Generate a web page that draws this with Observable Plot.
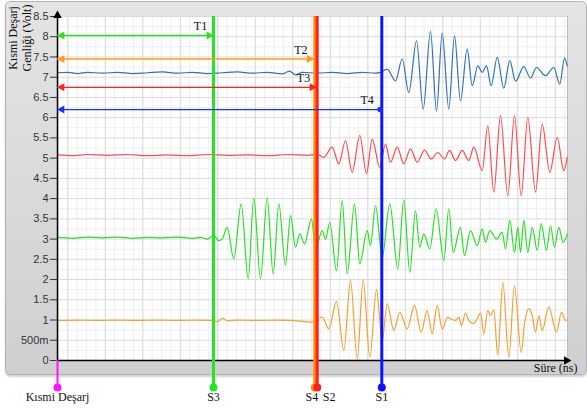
<!DOCTYPE html>
<html><head><meta charset="utf-8">
<script src="https://cdn.jsdelivr.net/npm/d3@7"></script>
<script src="https://cdn.jsdelivr.net/npm/@observablehq/plot@0.6"></script>
<style>
body{margin:0;background:#fff;overflow:hidden}
#wrap{position:relative;width:587px;height:412px;overflow:hidden}
#panel{position:absolute;left:5px;top:1px;width:582px;height:374px;box-sizing:border-box;border:1px solid #b3b3b3;border-radius:5px;background:linear-gradient(#e4e4e4,#cfcfcf);box-shadow:0 2px 2px rgba(0,0,0,.18)}
#chart{position:absolute;left:0;top:0}
#ytitle{position:absolute;font:12px "Liberation Serif";line-height:14px;text-align:center;width:100px;height:28px;left:-30px;top:24px;transform:rotate(-90deg);color:#111;white-space:nowrap}
</style></head>
<body>
<div id="wrap">
  <div id="panel"></div>
  <div id="chart"></div>
  <div id="ytitle">Kısmi Deşarj<br>Genliği (Volt)</div>
</div>
<script>
// time axis (ns, no labelled ticks) and amplitude axis (V)
const xDomain = [0, 510];
const yDomain = [0, 8.5];
const yTicks = [0, 0.5, 1, 1.5, 2, 2.5, 3, 3.5, 4, 4.5, 5, 5.5, 6, 6.5, 7, 7.5, 8, 8.5];
const yTickLabels = ["0", "500m", "1", "1.5", "2", "2.5", "3", "3.5", "4", "4.5", "5", "5.5", "6", "6.5", "7", "7.5", "8", "8.5"];

// waveforms [time, volt]
const blueSeries = [[0,7.11],[10,7.12],[20,7.09],[30,7.12],[45,7.10],[60,7.12],[75,7.09],[90,7.11],[105,7.13],[120,7.10],[135,7.12],[150,7.09],[165,7.11],[180,7.13],[195,7.10],[210,7.12],[225,7.08],[232,7.15],[238,7.06],[245,7.12],[260,7.10],[275,7.12],[290,7.09],[305,7.12],[318,7.10],
[323,7.12],[329.7,7.20],[338,6.91],[344.7,7.45],[351.3,6.62],[359,7.90],[365.7,6.21],[373,8.13],[379,6.16],[384.7,8.09],[391.3,6.21],[397,8.02],[403,6.42],[409.7,7.70],[414.7,6.79],[420.3,7.28],[424.7,7.12],[429,7.28],[433.7,6.79],[439.7,7.49],[446.3,6.73],[452.3,7.41],[458,6.90],[466.3,7.26],[473,6.98],[479,7.24],[488,7.04],[496.3,7.24],[502.3,6.83],[507,7.47],[509.7,7.28]];

const redSeries = [[0,5.08],[15,5.06],[30,5.09],[50,5.07],[70,5.09],[90,5.06],[110,5.08],[130,5.06],[150,5.09],[170,5.07],[190,5.08],[210,5.06],[230,5.09],[250,5.07],[259.7,5.10],[266.3,5.02],[274.7,5.27],[281.3,4.86],[288,5.43],[294.7,4.65],[302.3,5.56],[309,4.62],[314.7,5.47],[322.3,4.77],[328,5.35],[333,4.90],[339.7,5.27],[346.3,4.86],[353,5.23],[359.7,4.90],[367,5.20],[373.7,4.98],[380.3,5.14],[387,4.98],[392,5.19],[398,4.94],[404.7,5.19],[411.3,4.94],[416.3,5.27],[424.7,4.69],[430.3,5.80],[436.3,4.16],[443,6.05],[450.3,4.07],[457,6.05],[463.7,4.07],[470.3,6.01],[478,4.16],[484.7,5.84],[492.3,4.65],[499.7,5.51],[506.3,4.69],[509.7,5.02]];

const greenSeries = [[0,3.04],[15,3.02],[30,3.05],[45,3.03],[60,3.05],[75,3.02],[90,3.04],[105,3.03],[120,3.05],[135,3.02],[143,3.04],[149.7,3.00],[156.3,3.09],[161.3,2.96],[164.7,3.00],[169.7,3.29],[176.3,2.51],[183.7,3.87],[190.7,2.02],[196.3,4.02],[203,2.02],[209.7,4.02],[215.7,2.14],[221.3,3.87],[228,2.35],[233,3.58],[238,2.80],[242.3,3.13],[247,2.88],[254,3.50],[258,2.76],[264.7,3.21],[268,3.00],[272.3,3.41],[279,2.22],[284.7,3.95],[289.7,2.14],[297,3.87],[302.3,2.39],[309.7,3.21],[313,2.84],[318,3.83],[324.7,2.55],[332.3,3.87],[340.3,2.26],[346.3,3.97],[352.3,2.18],[358,3.70],[362.3,2.80],[366.3,3.13],[372.3,2.76],[378.7,3.75],[386.3,2.47],[391.3,3.75],[395.7,2.67],[403,3.29],[407,2.59],[413,3.21],[419.7,2.84],[424.7,3.25],[428,2.92],[432.3,3.21],[439,3.00],[444.7,3.17],[448,2.76],[452.3,3.46],[457,2.67],[460.3,3.29],[463,2.67],[466.3,3.46],[470.3,2.67],[474.7,3.29],[479.7,2.72],[483.7,3.38],[489,2.72],[493,3.33],[497,2.80],[501.3,3.29],[505.7,2.92],[509.7,3.13]];

const orangeSeries = [[0,0.99],[20,1.00],[40,0.99],[60,1.00],[80,0.99],[100,1.00],[120,0.99],[140,1.00],[155,0.99],[160,0.96],[165,1.04],[170,0.98],[180,1.00],[200,0.99],[220,1.00],[233,0.99],[254.7,0.95],[264.7,1.07],[271.3,0.78],[279,1.46],[286.3,0.25],[293,1.98],[299.7,0.04],[305.7,1.99],[312.3,0.08],[319,1.75],[324.7,0.49],[329.7,1.40],[336.3,0.74],[342.3,1.19],[349.7,0.78],[357,1.36],[363.7,0.70],[369.7,1.23],[374.7,0.66],[379.7,1.36],[384.7,0.78],[390.3,1.07],[393,1.03],[398,0.99],[401.3,1.07],[404,0.86],[408,1.17],[411.3,0.99],[415.7,0.91],[419,1.00],[423,1.17],[426.3,0.66],[430.3,1.23],[433,1.11],[436.3,1.25],[440.3,0.12],[445.3,1.93],[451.3,0.08],[457,1.85],[463.7,0.20],[467,0.91],[471.3,1.28],[474.7,1.11],[478,0.70],[481.3,1.11],[484.7,0.74],[491.3,1.32],[499,0.70],[504,1.19],[508,0.99],[509.7,1.00]];

// cursors
const cursorNames = ["Kısmi Deşarj", "S3", "S4", "S2", "S1"];
const cursorTimes = [0, 156, 257.3, 259.7, 324.3];
const cursorColors = ["#ff14ff", "#22e622", "#ff8c00", "#ff1f1f", "#0a14ff"];

// time-difference arrows
const arrowNames = ["T1", "T2", "T3", "T4"];
const arrowLevels = [8.03, 7.45, 6.75, 6.2];
const arrowEnds = [156, 256.3, 259, 322.7];
const arrowColors = ["#22e622", "#ff9a1a", "#ff2020", "#1430ff"];

const cursors = cursorNames.map((name, i) => ({name, t: cursorTimes[i], color: cursorColors[i]}));
const arrows = arrowNames.map((name, i) => ({name, v: arrowLevels[i], end: arrowEnds[i], color: arrowColors[i]}));

const xMajor = d3.range(10.3, xDomain[1], 37.5);
const xMinor = d3.range(0.925, xDomain[1], 9.375);
const yMajor = d3.range(0.5, 8.51, 0.5);
const yMinor = d3.range(0.25, 8.5, 0.5);

const serif = "Liberation Serif";
const wave = (data, color) => Plot.line(data, {x: d => d[0], y: d => d[1], stroke: color, strokeWidth: 1.2, curve: "monotone-x"});

const plotH = 344;
const chart = Plot.plot({
  width: 587, height: 412,
  marginLeft: 57, marginRight: 20, marginTop: 16, marginBottom: 52,
  style: {background: "transparent", overflow: "visible", fontFamily: "Liberation Sans", fontSize: "11px", color: "#333"},
  x: {domain: xDomain, axis: null},
  y: {domain: yDomain, ticks: yTicks, tickFormat: d => yTickLabels[yTicks.indexOf(d)], tickSize: 7, tickPadding: 2, label: null},
  marks: [
    Plot.frame({fill: "white", stroke: "#bdbdbd"}),
    Plot.ruleX(xMinor, {stroke: "#efefef"}),
    Plot.ruleY(yMinor, {stroke: "#efefef"}),
    Plot.ruleX(xMajor, {stroke: "#dadada"}),
    Plot.ruleY(yMajor, {stroke: "#dadada"}),
    wave(blueSeries, "#2f72b8"),
    wave(redSeries, "#ff4a4a"),
    wave(greenSeries, "#25e025"),
    wave(orangeSeries, "#f5a030"),
    Plot.ruleX([xDomain[0]], {stroke: "black", strokeWidth: 1.5}),
    Plot.ruleY([yDomain[0]], {stroke: "black", strokeWidth: 1.5}),
    Plot.dot([yDomain[1]], {x: () => xDomain[0], y: d => d, symbol: "triangle", r: 3.2, fill: "black", stroke: null, dy: -1}),
    Plot.dot([xDomain[1]], {x: d => d, y: () => yDomain[0], symbol: "triangle", rotate: 90, r: 3.2, fill: "black", stroke: null, dx: -1}),
    // cursor lines
    Plot.ruleX(cursors.filter(c => c.t > 0), {x: "t", stroke: "color", strokeWidth: 3, insetBottom: -27}),
    Plot.ruleX(cursors.filter(c => c.t === 0), {x: "t", stroke: "color", strokeWidth: 2, insetTop: plotH, insetBottom: -27}),
    Plot.dot(cursors, {x: "t", frameAnchor: "bottom", dy: 27, r: 4, fill: "color", stroke: null}),
    Plot.text(cursors.filter(c => c.name !== "S4" && c.name !== "S2"), {x: "t", text: "name", frameAnchor: "bottom", dy: 40, fontFamily: serif, fontSize: 12, fill: "#111"}),
    Plot.text(cursors.filter(c => c.name === "S4"), {x: "t", text: "name", frameAnchor: "bottom", dy: 40, dx: -3, fontFamily: serif, fontSize: 12, fill: "#111"}),
    Plot.text(cursors.filter(c => c.name === "S2"), {x: "t", text: "name", frameAnchor: "bottom", dy: 40, dx: 12, fontFamily: serif, fontSize: 12, fill: "#111"}),
    // arrows
    Plot.ruleY(arrows, {x1: () => xDomain[0], x2: "end", y: "v", stroke: "color", strokeWidth: 1.3}),
    Plot.dot(arrows, {x: () => xDomain[0], y: "v", symbol: "triangle", rotate: -90, r: 3, fill: "color", stroke: null, dx: 4.5}),
    Plot.dot(arrows.filter(a => a.name !== "T4"), {x: "end", y: "v", symbol: "triangle", rotate: 90, r: 3, fill: "color", stroke: null, dx: -4.5}),
    Plot.dot(arrows.filter(a => a.name === "T4"), {x: "end", y: "v", r: 2.8, fill: "color", stroke: null}),
    Plot.text(arrows, {x: "end", y: "v", text: "name", dx: -13, dy: -9, fontFamily: serif, fontSize: 12, fill: "#111"}),
    Plot.text(["Süre (ns)"], {frameAnchor: "bottom-right", textAnchor: "end", dx: 10, dy: 11, fontFamily: serif, fontSize: 12, fill: "#111"})
  ]
});
document.getElementById("chart").append(chart);
</script>
</body></html>
